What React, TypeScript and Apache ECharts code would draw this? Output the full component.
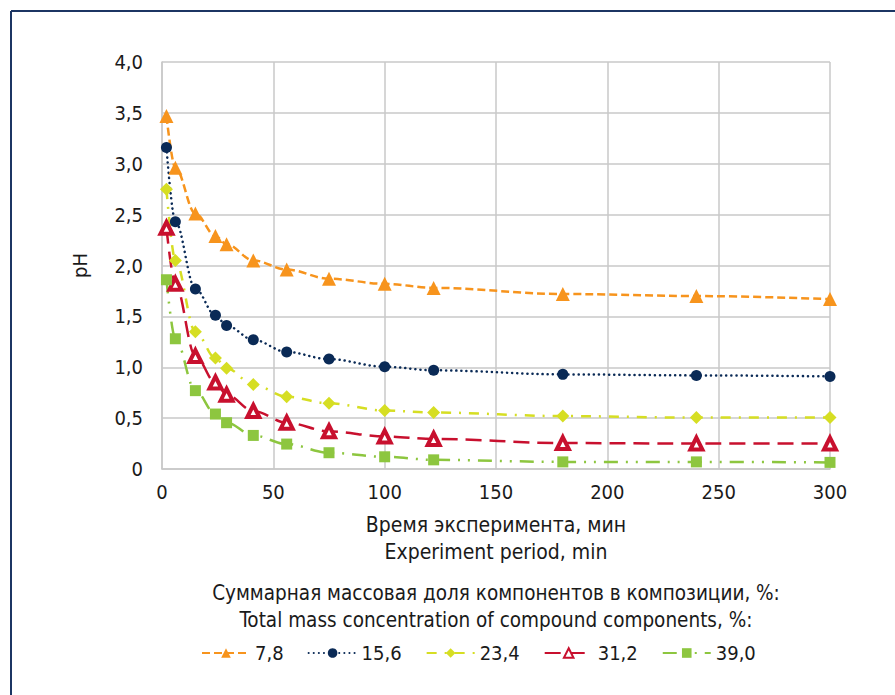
import React, { useEffect, useRef } from "react";
import * as echarts from "echarts";

const timeMin = [2, 6, 15, 24, 29, 41, 56, 75, 100, 122, 180, 240, 300];
const seriesNames = ["7,8", "15,6", "23,4", "31,2", "39,0"];
const ph78 = [3.47, 2.96, 2.51, 2.29, 2.21, 2.05, 1.96, 1.87, 1.82, 1.78, 1.72, 1.7, 1.67];
const ph156 = [3.16, 2.43, 1.77, 1.51, 1.41, 1.27, 1.15, 1.08, 1.005, 0.97, 0.93, 0.92, 0.91];
const ph234 = [2.75, 2.05, 1.35, 1.09, 0.99, 0.83, 0.71, 0.645, 0.575, 0.555, 0.52, 0.505, 0.505];
const ph312 = [2.37, 1.82, 1.11, 0.85, 0.73, 0.57, 0.455, 0.37, 0.32, 0.295, 0.255, 0.25, 0.25];
const ph390 = [1.86, 1.28, 0.77, 0.54, 0.455, 0.33, 0.245, 0.16, 0.12, 0.09, 0.07, 0.07, 0.065];
const yTicks = [0, 0.5, 1, 1.5, 2, 2.5, 3, 3.5, 4];

const FONT = "'Liberation Sans Narrow', 'DejaVu Sans Condensed', 'Open Sans', sans-serif";
const TXT = "#1a1a1a";

export default function App() {
  const ref = useRef<HTMLDivElement>(null);
  useEffect(() => {
    if (!ref.current) return;
    const chart = echarts.init(ref.current, undefined, { renderer: "svg" });
    const pairs = (ys: number[]) => timeMin.map((t, i) => [t, ys[i]]);
    const mk = (
      name: string,
      ys: number[],
      color: string,
      dash: number[],
      symbol: string,
      symbolSize: number,
      extraItem: any = {},
      cap: string = "butt"
    ) => ({
      name,
      type: "line",
      data: pairs(ys),
      smooth: 0.35,
      smoothMonotone: "x",
      symbol,
      symbolSize,
      showSymbol: true,
      lineStyle: { color, width: 2.5, type: dash, cap },
      itemStyle: { color, ...extraItem },
      z: 3,
    });
    chart.setOption({
      animation: false,
      textStyle: { fontFamily: FONT, color: TXT },
      grid: { left: 162, right: 65, top: 62, bottom: 226, containLabel: false },
      xAxis: {
        type: "value",
        min: 0,
        max: 300,
        interval: 50,
        name: "Время эксперимента, мин\nExperiment period, min",
        nameLocation: "middle",
        nameGap: 42,
        nameTextStyle: { fontSize: 21, color: TXT, fontFamily: FONT, lineHeight: 27 },
        axisLine: { show: true, lineStyle: { color: "#c8c8c8", width: 1.5 } },
        axisTick: { show: false },
        axisLabel: { fontSize: 20, color: TXT, fontFamily: FONT, margin: 13 },
        splitLine: { show: true, lineStyle: { color: "#c8c8c8", width: 1.5 } },
      },
      yAxis: {
        type: "value",
        min: 0,
        max: 4,
        interval: 0.5,
        name: "pH",
        nameLocation: "middle",
        nameGap: 72,
        nameRotate: 90,
        nameTextStyle: { fontSize: 20, color: TXT, fontFamily: FONT },
        axisLine: { show: true, lineStyle: { color: "#c8c8c8", width: 1.5 } },
        axisTick: { show: false },
        axisLabel: {
          fontSize: 20,
          color: TXT,
          fontFamily: FONT,
          margin: 19,
          formatter: (v: number) => (yTicks.indexOf(v) === 0 ? "0" : v.toFixed(1).replace(".", ",")),
        },
        splitLine: { show: true, lineStyle: { color: "#c8c8c8", width: 1.5 } },
      },
      legend: {
        left: 196,
        top: 638,
        itemWidth: 48,
        itemHeight: 12,
        itemGap: 24,
        textStyle: { fontSize: 20, color: TXT, fontFamily: FONT },
        data: seriesNames,
      },
      graphic: [
        {
          type: "line",
          shape: { x1: 11, y1: 11, x2: 895, y2: 11 },
          style: { stroke: "#1c3563", lineWidth: 2 },
        },
        {
          type: "line",
          shape: { x1: 11, y1: 11, x2: 11, y2: 695 },
          style: { stroke: "#1c3563", lineWidth: 2 },
        },
        {
          type: "text",
          x: 496,
          y: 593,
          style: {
            text: "Суммарная массовая доля компонентов в композиции, %:",
            fontSize: 20.5,
            fontFamily: FONT,
            fill: TXT,
            align: "center",
            verticalAlign: "middle",
          },
        },
        {
          type: "text",
          x: 496,
          y: 620,
          style: {
            text: "Total mass concentration of compound components, %:",
            fontSize: 20.5,
            fontFamily: FONT,
            fill: TXT,
            align: "center",
            verticalAlign: "middle",
          },
        },
      ],
      series: [
        mk(seriesNames[0], ph78, "#f7941d", [8, 4], "triangle", 14),
        mk(seriesNames[1], ph156, "#0a2a56", [0.1, 5], "circle", 11, {}, "round"),
        mk(seriesNames[2], ph234, "#d6de23", [10, 8, 2, 8], "diamond", 13),
        mk(seriesNames[3], ph312, "#c8102e", [16, 8], "triangle", 12, {
          color: "#ffffff",
          borderColor: "#c8102e",
          borderWidth: 4,
        }),
        mk(seriesNames[4], ph390, "#8dc63f", [14, 8, 2, 8, 2, 8], "rect", 11),
      ],
    });
    return () => chart.dispose();
  }, []);
  return (
    <div
      ref={ref}
      style={{ position: "fixed", left: 0, top: 0, width: 895, height: 695, background: "#fff" }}
    />
  );
}
